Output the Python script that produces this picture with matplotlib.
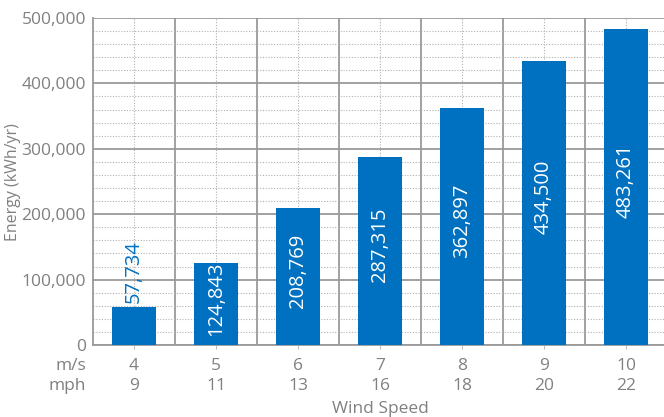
import matplotlib
matplotlib.use('Agg')
import matplotlib.pyplot as plt
from matplotlib.ticker import MultipleLocator, FuncFormatter, FixedLocator

wind_ms = [4, 5, 6, 7, 8, 9, 10]
wind_mph = [9, 11, 13, 16, 18, 20, 22]
energy = [57734, 124843, 208769, 287315, 362897, 434500, 483261]

blue = '#0070c0'
grey = '#808080'

plt.rcParams['font.family'] = ['Open Sans', 'DejaVu Sans']

fig = plt.figure(figsize=(6.64, 4.17), dpi=100)
ax = fig.add_axes([93 / 664, 72 / 417, 574 / 664, 327 / 417])

x = list(range(len(energy)))
ax.bar(x, energy, width=0.54, color=blue, zorder=3)

for i, v in enumerate(energy):
    label = f'{v:,}'
    if v < 100000:
        ax.text(i, v + 7000, label, rotation=90, ha='center', va='bottom',
                color=blue, fontsize=14.5, zorder=4)
    else:
        ax.text(i, v / 2 + 9000, label, rotation=90, ha='center', va='center',
                color='white', fontsize=14.5, zorder=4)

ax.set_xlim(-0.5, len(energy) - 0.5)
ax.set_ylim(0, 500000)

# major lines: every 100k and between categories; minor dotted lines inside
ax.yaxis.set_major_locator(MultipleLocator(100000))
ax.yaxis.set_minor_locator(MultipleLocator(20000))
ax.yaxis.set_major_formatter(FuncFormatter(lambda v, p: f'{int(v):,}'))
ax.xaxis.set_major_locator(FixedLocator([i + 0.5 for i in x]))
ax.xaxis.set_minor_locator(FixedLocator(x))
ax.set_xticklabels([])

ax.grid(which='major', color='#9a9a9a', linewidth=1.3, zorder=1)
ax.grid(which='minor', color='#b0b0b0', linewidth=0.8, linestyle=(0, (1, 1.5)), zorder=1)

ax.tick_params(axis='y', which='both', length=0, colors=grey, labelsize=12.5, pad=5)
ax.tick_params(axis='x', which='major', length=0)
ax.tick_params(axis='x', which='minor', length=3, color='#b0b0b0')

for side in ('top', 'right'):
    ax.spines[side].set_visible(False)
for side in ('left', 'bottom'):
    ax.spines[side].set_color('#9a9a9a')
    ax.spines[side].set_linewidth(1.3)

# two rows of speed labels under the axis
tr = ax.get_xaxis_transform()
for i, (a, b) in enumerate(zip(wind_ms, wind_mph)):
    ax.text(i, -0.064, str(a), transform=tr, ha='center', va='center',
            color=grey, fontsize=12.5)
    ax.text(i, -0.126, str(b), transform=tr, ha='center', va='center',
            color=grey, fontsize=12.5)

ax.text(0.5, -0.196, 'Wind Speed', transform=ax.transAxes, ha='center',
        va='center', color=grey, fontsize=12.5)
fig.text(13 / 664, 1 - 182 / 417, 'Energy (kWh/yr)', rotation=90, ha='center',
         va='center', color=grey, fontsize=11.5)

fig.text(86 / 664, 1 - 366 / 417, 'm/s', ha='right', va='center', color=grey, fontsize=12.5)
fig.text(86 / 664, 1 - 386 / 417, 'mph', ha='right', va='center', color=grey, fontsize=12.5)

fig.savefig('out.png', dpi=100)
